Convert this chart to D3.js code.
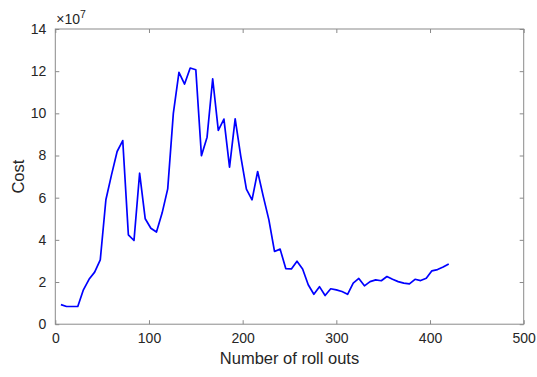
<!DOCTYPE html>
<html>
<head>
<meta charset="utf-8">
<script src="https://cdn.jsdelivr.net/npm/d3@7"></script>
<style>
  html, body { margin: 0; padding: 0; background: #fff; }
  svg { display: block; font-family: "Liberation Sans", Arial, sans-serif; }
</style>
</head>
<body>
<svg id="chart" width="537" height="377"></svg>
<script>
// Roll-out counts (x) and cost in units of 1e7 (y)
const rollOuts = [
  6, 12, 18, 24, 30, 36, 42, 48, 54, 60,
  66, 72, 78, 84, 90, 96, 102, 108, 114, 120,
  126, 132, 138, 144, 150, 156, 162, 168, 174, 180,
  186, 192, 198, 204, 210, 216, 222, 228, 234, 240,
  246, 252, 258, 264, 270, 276, 282, 288, 294, 300,
  306, 312, 318, 324, 330, 336, 342, 348, 354, 360,
  366, 372, 378, 384, 390, 396, 402, 408, 414, 420
];
const costE7 = [
  0.93, 0.84, 0.84, 0.84, 1.63, 2.13, 2.47, 3.05, 5.90, 7.08,
  8.19, 8.71, 4.24, 3.97, 7.16, 5.00, 4.55, 4.37, 5.27, 6.42,
  10.00, 11.94, 11.39, 12.15, 12.07, 7.99, 8.87, 11.64, 9.19, 9.73,
  7.45, 9.74, 7.96, 6.41, 5.90, 7.24, 6.06, 4.95, 3.45, 3.56,
  2.64, 2.62, 2.99, 2.62, 1.87, 1.42, 1.78, 1.36, 1.68, 1.63,
  1.55, 1.42, 1.95, 2.17, 1.82, 2.02, 2.10, 2.06, 2.26, 2.13,
  2.02, 1.95, 1.91, 2.13, 2.07, 2.18, 2.53, 2.59, 2.71, 2.86
];
const xTicks = [0, 100, 200, 300, 400, 500];
const yTicks = [0, 2, 4, 6, 8, 10, 12, 14];

const margin = { left: 55.3, right: 537 - 523.7, top: 29, bottom: 377 - 324.2 };
const W = 537, H = 377;
const svg = d3.select("#chart");

const x = d3.scaleLinear().domain([0, 500]).range([margin.left, W - margin.right]);
const y = d3.scaleLinear().domain([0, 14]).range([H - margin.bottom, margin.top]);

const axisColor = "#8a8a8a";
const textColor = "#262626";
const tickLen = 4;

// Axes with inward ticks on all four sides
function styleAxis(g) {
  g.select(".domain").remove();
  g.selectAll(".tick line").attr("stroke", axisColor);
  g.selectAll(".tick text").attr("fill", textColor).style("font-size", "14px");
}

svg.append("g")
  .attr("transform", `translate(0,${y(0)})`)
  .call(d3.axisBottom(x).tickValues(xTicks).tickSizeInner(-tickLen).tickSizeOuter(0).tickPadding(9))
  .call(styleAxis);

svg.append("g")
  .attr("transform", `translate(0,${y(14)})`)
  .call(d3.axisTop(x).tickValues(xTicks).tickSizeInner(-tickLen).tickSizeOuter(0).tickFormat(""))
  .call(styleAxis);

svg.append("g")
  .attr("transform", `translate(${x(0)},0)`)
  .call(d3.axisLeft(y).tickValues(yTicks).tickSizeInner(-tickLen).tickSizeOuter(0).tickPadding(9))
  .call(styleAxis);

svg.append("g")
  .attr("transform", `translate(${x(500)},0)`)
  .call(d3.axisRight(y).tickValues(yTicks).tickSizeInner(-tickLen).tickSizeOuter(0).tickFormat(""))
  .call(styleAxis);

// Plot box
svg.append("rect")
  .attr("x", x(0)).attr("y", y(14))
  .attr("width", x(500) - x(0)).attr("height", y(0) - y(14))
  .attr("fill", "none").attr("stroke", axisColor).attr("stroke-width", 1);

// Cost curve
const line = d3.line().x((d, i) => x(rollOuts[i])).y(d => y(d));
svg.append("path")
  .datum(costE7)
  .attr("d", line)
  .attr("fill", "none")
  .attr("stroke", "#0000ff")
  .attr("stroke-width", 1.7)
  .attr("stroke-linejoin", "round");

// Exponent marker
const expo = svg.append("text")
  .attr("x", x(0) + 1).attr("y", y(14) - 5)
  .attr("fill", textColor).style("font-size", "14px");
expo.append("tspan").text("\u00d710");
expo.append("tspan").attr("dy", -6).style("font-size", "10.5px").text("7");

// Axis titles
svg.append("text")
  .attr("x", (x(0) + x(500)) / 2).attr("y", 364)
  .attr("text-anchor", "middle").attr("fill", textColor)
  .style("font-size", "16.5px").text("Number of roll outs");

svg.append("text")
  .attr("transform", `translate(24,${(y(0) + y(14)) / 2}) rotate(-90)`)
  .attr("text-anchor", "middle").attr("fill", textColor)
  .style("font-size", "16.5px").text("Cost");
</script>
</body>
</html>
